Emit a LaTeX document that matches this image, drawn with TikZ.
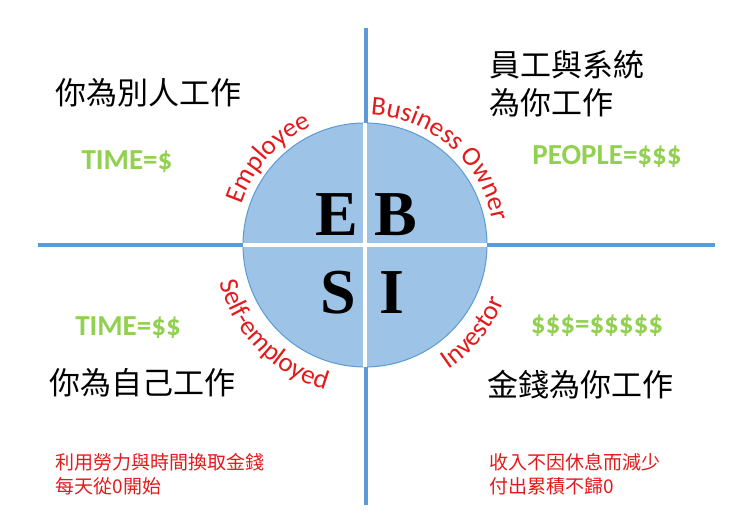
\documentclass[tikz,border=0pt]{standalone}
\usepackage{fontspec}
\setmainfont{Liberation Serif}
\setsansfont{Carlito}
\newfontfamily\cjk{Noto Sans CJK TC}
\usetikzlibrary{decorations.text}
\definecolor{axisblue}{HTML}{5B9BD5}
\definecolor{fillblue}{HTML}{9DC3E6}
\definecolor{grn}{HTML}{92D050}
\definecolor{rd}{HTML}{E31A1C}
\begin{document}
\begin{tikzpicture}[x=1pt,y=1pt,
  big/.style={font=\cjk\fontsize{31}{38}\selectfont, align=left},
  money/.style={font=\sffamily\bfseries\fontsize{29}{29}\selectfont, text=grn},
  note/.style={font=\cjk\fontsize{19}{24}\selectfont, text=rd, align=left},
  letter/.style={font=\rmfamily\bfseries\fontsize{64}{64}\selectfont},
  arctext/.style={decorate, decoration={text along path, text align=center,
     text={|\sffamily\fontsize{27}{27}\selectfont\color{rd}|#1}}}]
\useasboundingbox (0,0) rectangle (740,513);
\coordinate (c) at (365,268);
\coordinate (vt) at (366,485);
\coordinate (vb) at (366,8);
\coordinate (hl) at (38,268);
\coordinate (hr) at (715,268);
\draw[axisblue, line width=4] (vt) -- (vb);
\draw[axisblue, line width=4] (hl) -- (hr);
\draw[axisblue, fill=fillblue, line width=1] (c) circle[radius=122];
\draw[white, line width=4] (c) ++(0,122) -- ++(0,-244);
\draw[white, line width=4] (c) ++(-122,0) -- ++(244,0);
\node[letter] (E) at (337,298) {E};
\node[letter] (B) at (396,298) {B};
\node[letter] (S) at (338,220) {S};
\node[letter] (I) at (392,220) {I};
\path[arctext=Employee] (c) ++(173:130) arc[start angle=173, end angle=103, radius=130];
\path[arctext=Business Owner] (c) ++(98:130) arc[start angle=98, end angle=0, radius=130];
\path[arctext=Self-employed] (c) ++(185:150) arc[start angle=185, end angle=264, radius=150];
\path[arctext=Investor] (c) ++(290:150) arc[start angle=290, end angle=352, radius=150];
\node[big, anchor=west] (t1) at (52,420) {你為別人工作};
\node[big, anchor=north west] (t2) at (486,466) {員工與系統\\為你工作};
\node[big, anchor=west] (t3) at (46,130) {你為自己工作};
\node[big, anchor=west] (t4) at (484,128) {金錢為你工作};
\node[money] (m1) at (127,351) {TIME=\$};
\node[money] (m2) at (607,356) {PEOPLE=\$\$\$};
\node[money] (m3) at (128,185) {TIME=\$\$};
\node[money] (m4) at (597,187) {\$\$\$=\$\$\$\$\$};
\node[note, anchor=north west] (n1) at (52,63) {利用勞力與時間換取金錢\\每天從0開始};
\node[note, anchor=north west] (n2) at (486,63) {收入不因休息而減少\\付出累積不歸0};
\end{tikzpicture}
\end{document}
